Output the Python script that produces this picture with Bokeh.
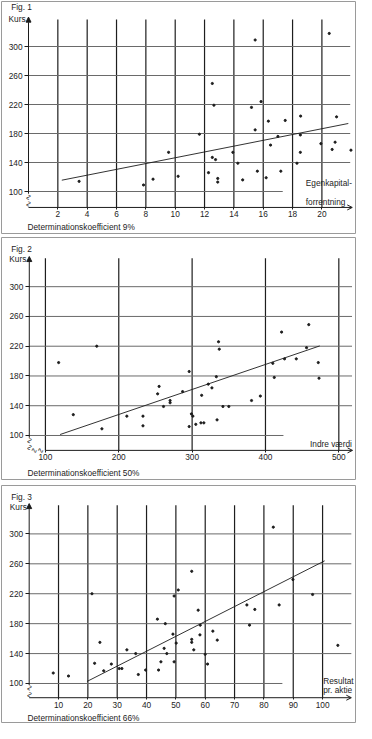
import math
from bokeh.plotting import figure
from bokeh.layouts import column
from bokeh.models import FixedTicker, Arrow, NormalHead, OpenHead
from bokeh.core.properties import value
from bokeh.embed import file_html
from bokeh.resources import INLINE

FONT = "Liberation Sans"
FS = "8.3px"
INK = "#1c1c1c"
GRIDV = "#1e1e1e"
GRIDH = "#6a6a6a"
BOX = "#9a9a9a"

# ---------------- data ----------------
# Fig. 1  (Egenkapitalforrentning vs Kurs)
fig1_x = [3.45, 7.84, 8.49, 9.55, 10.2, 11.65, 12.27, 12.53, 12.53, 12.64, 12.75, 12.9, 12.9,
          13.93, 14.27, 14.6, 15.2, 15.45, 15.45, 15.6, 15.85, 16.2, 16.35, 16.5, 17.0, 17.2,
          17.5, 18.3, 18.53, 18.53, 18.55, 19.93, 20.5, 20.7, 20.9, 21.0, 21.98]
fig1_y = [114, 109, 117, 154, 121, 179, 126, 147, 249, 219, 144, 118, 113,
          154, 139, 116, 216, 309, 185, 128, 224, 119, 197, 164, 176, 128,
          198, 139, 178, 154, 204, 166, 318, 158, 168, 203, 157]
fig1_reg_x = [2.27, 21.8]
fig1_reg_y = [115.6, 193.8]
fig1_xticks = [2, 4, 6, 8, 10, 12, 14, 16, 18, 20]

# Fig. 2  (Indre vaerdi vs Kurs)
fig2_x = [118, 138, 170, 177, 211, 233, 233, 253, 255, 261, 270, 270, 287, 296, 296, 299, 301,
          305, 312, 316, 313, 322, 327, 333, 334, 336, 337, 342, 350, 381, 393, 410, 412, 422,
          426, 442, 456, 459, 472, 473]
fig2_y = [198, 128, 220, 109, 126, 126, 113, 156, 166, 139, 147, 144, 159, 186, 112, 129, 126,
          115, 117, 117, 154, 169, 164, 179, 121, 226, 216, 139, 139, 147, 153, 197, 178, 239,
          203, 203, 218, 249, 198, 177]
fig2_reg_x = [120, 474]
fig2_reg_y = [101.3, 220.4]
fig2_xticks = [100, 200, 300, 400, 500]

# Fig. 3  (Resultat pr. aktie vs Kurs)
fig3_x = [8.2, 13.4, 21.4, 22.3, 24.1, 25.4, 28, 30.7, 31.6, 33.3, 36.3, 37.2, 39.7, 43.7, 44.1,
          44.9, 46, 46.4, 46.9, 49, 49.4, 49.4, 50.1, 50.8, 55.4, 55.4, 55.4, 56.1, 57.6, 58.2,
          58.3, 60, 60.8, 62.6, 64.1, 74.2, 75.1, 76.9, 83.2, 85.2, 89.9, 96.6, 105.2]
fig3_y = [114, 110, 220, 127, 155, 117, 126, 120, 120, 145, 140, 112, 118, 186, 118,
          129, 147, 180, 140, 166, 217, 129, 154, 225, 250, 159, 155, 145, 198, 165,
          178, 139, 126, 170, 158, 205, 178, 199, 309, 205, 239, 219, 151]
fig3_reg_x = [19.7, 100.7]
fig3_reg_y = [102.7, 264]
fig3_xticks = [10, 20, 30, 40, 50, 60, 70, 80, 90, 100]

kurs_ticks = [100, 140, 180, 220, 260, 300]


def panel(cfg):
    p = figure(width=356, height=cfg["height"], x_range=cfg["xr"], y_range=cfg["yr"],
               output_backend="svg", toolbar_location=None, title=None,
               min_border_left=1, min_border_right=1, min_border_top=cfg["top"],
               min_border_bottom=1)
    p.outline_line_color = BOX
    p.outline_line_width = 1
    p.xgrid.visible = False
    p.ygrid.visible = False
    p.background_fill_color = "white"
    p.border_fill_color = "white"

    x0, y0 = cfg["x0"], cfg["y0"]
    xt = cfg["xticks"]
    xa = p.xaxis[0]
    xa.fixed_location = y0
    xa.ticker = FixedTicker(ticks=xt)
    ya = p.yaxis[0]
    ya.fixed_location = x0
    ya.ticker = FixedTicker(ticks=kurs_ticks)
    for ax, out in ((xa, 2), (ya, 4)):
        ax.axis_line_color = None
        ax.major_tick_in = 0
        ax.major_tick_out = out
        ax.major_tick_line_color = INK
        ax.minor_tick_line_color = None
        ax.major_label_text_font = FONT
        ax.major_label_text_font_size = FS
        ax.major_label_text_color = INK
        ax.major_label_standoff = 2

    # grid lines
    p.segment(x0=xt, y0=[y0] * len(xt), x1=xt, y1=[cfg["gtop"]] * len(xt),
              line_color=GRIDV, line_width=1.2)
    hr = [cfg["h100"] if t == 100 else cfg["hright"] for t in kurs_ticks]
    p.segment(x0=[x0] * len(kurs_ticks), y0=kurs_ticks, x1=hr, y1=kurs_ticks,
              line_color=GRIDH, line_width=1)

    # axis lines with arrows
    p.add_layout(Arrow(end=NormalHead(size=5, fill_color=INK, line_color=INK, line_width=1),
                       x_start=x0, y_start=cfg["ybreak"], x_end=x0, y_end=cfg["ytip"],
                       line_color=INK, line_width=1))
    p.add_layout(Arrow(end=OpenHead(size=5, line_color=INK, line_width=1),
                       x_start=cfg["xstart"], y_start=y0, x_end=cfg["xtip"], y_end=y0,
                       line_color=INK, line_width=1))
    # axis break squiggles
    p.text(x=[x0], y=[(cfg["ybreak"] + y0) / 2], text=["\u223f\u223f"], angle=math.pi / 2,
           text_font=value("DejaVu Sans"), text_font_size="8px", text_color=INK,
           text_align="center", text_baseline="middle")
    if cfg["xstart"] != x0:
        p.text(x=[(x0 + cfg["xstart"]) / 2], y=[y0], text=["\u223f\u223f"],
               text_font=value("DejaVu Sans"), text_font_size="8px", text_color=INK,
               text_align="center", text_baseline="middle")

    # regression line and points
    p.line(cfg["rx"], cfg["ry"], line_color=INK, line_width=0.9)
    p.scatter(cfg["px"], cfg["py"], size=2.2, marker="circle", color=INK)

    # texts
    for (tx, ty, s, al) in cfg["texts"]:
        p.text(x=[tx], y=[ty], text=[s], text_font=value(FONT), text_font_size=FS,
               text_color=INK, text_align=al, text_baseline="middle")
    return p


p1 = panel(dict(
    height=234, top=1, xr=(-1.8405, 22.29), yr=(42.07, 362.07),
    x0=0, y0=78, xticks=fig1_xticks, gtop=337.2, hright=21.93, h100=17.33,
    ybreak=97, ytip=340.5, xstart=0, xtip=22.07,
    rx=fig1_reg_x, ry=fig1_reg_y, px=fig1_x, py=fig1_y,
    texts=[(-1.18, 353.8, "Fig. 1", "left"),
           (-0.2, 337.9, "Kurs", "right"),
           (18.9, 111.4, "Egenkapital-", "left"),
           (18.9, 86.2, "forrentning", "left"),
           (-0.07, 51.7, "Determinationskoefficient  9%", "left")],
))

p2 = panel(dict(
    height=246, top=3, xr=(40.12, 522.74), yr=(40.86, 366.1),
    x0=78, y0=80, xticks=fig2_xticks, gtop=338.3, hright=518, h100=424.5,
    ybreak=97, ytip=340.5, xstart=100, xtip=518.7,
    rx=fig2_reg_x, ry=fig2_reg_y, px=fig2_x, py=fig2_y,
    texts=[(53.3, 350.9, "Fig. 2", "left"),
           (74.0, 336.8, "Kurs", "right"),
           (517.9, 88.8, "Indre v\u00e6rdi", "right"),
           (75.6, 49.9, "Determinationskoefficient  50%", "left")],
))

p3 = panel(dict(
    height=243, top=5, xr=(-9.434, 111.22), yr=(47.86, 364.7),
    x0=0, y0=81, xticks=fig3_xticks, gtop=338.4, hright=109.8, h100=86.3,
    ybreak=98, ytip=340.5, xstart=0, xtip=109.8,
    rx=fig3_reg_x, ry=fig3_reg_y, px=fig3_x, py=fig3_y,
    texts=[(-6.13, 349.0, "Fig. 3", "left"),
           (-0.8, 335.8, "Kurs", "right"),
           (100.2, 103.0, "Resultat", "left"),
           (100.2, 91.0, "pr. aktie", "left"),
           (-0.57, 54.1, "Determinationskoefficient  66%", "left")],
))

layout = column(p1, p2, p3, spacing=0)
open("out.html", "w").write(file_html(layout, INLINE))
